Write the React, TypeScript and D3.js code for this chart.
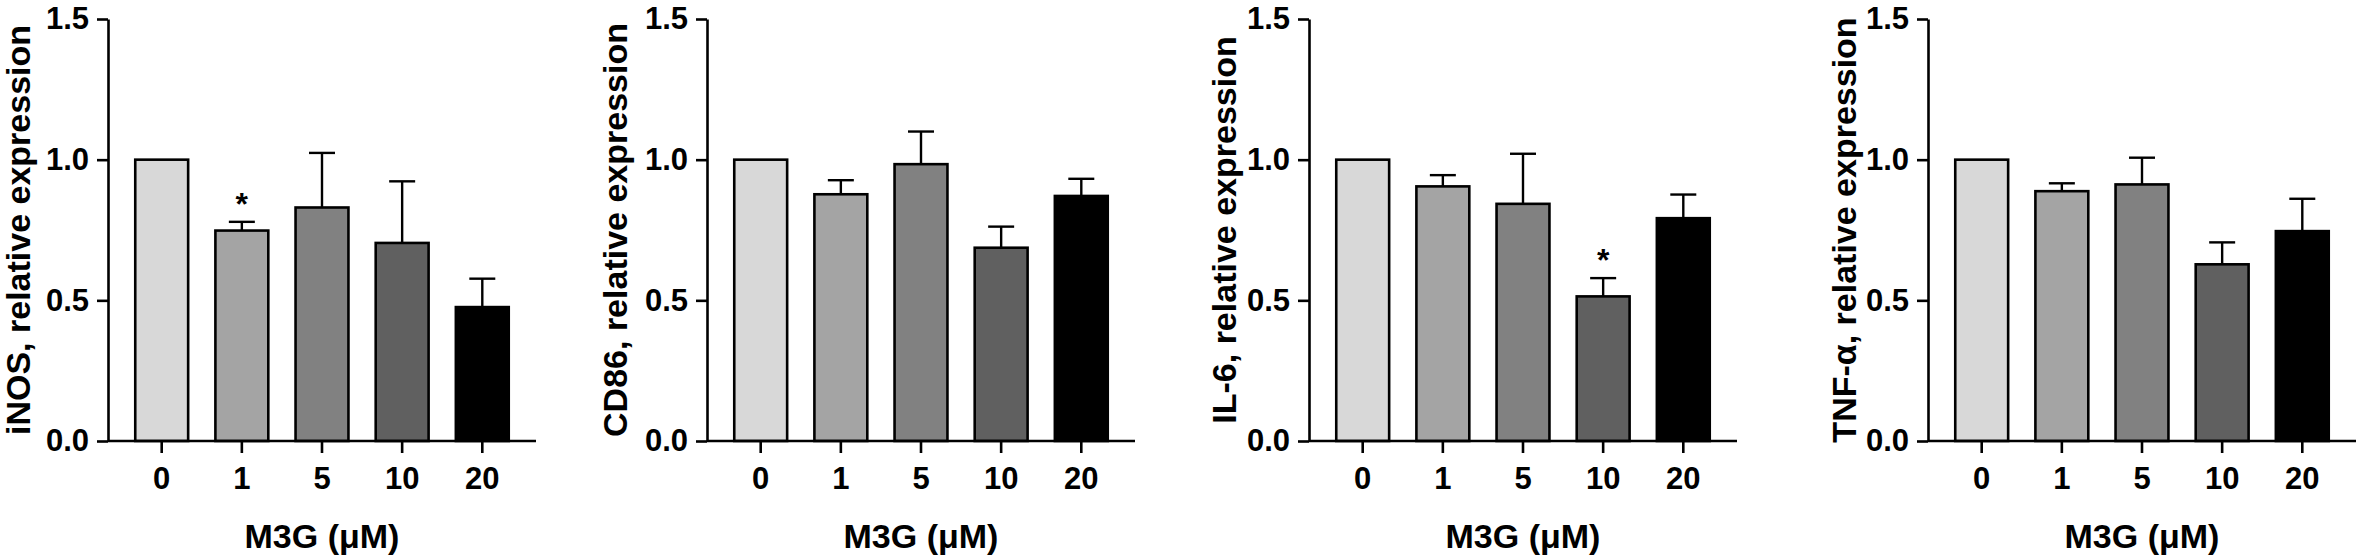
import { useEffect, useRef } from "react";
import * as d3 from "d3";

const doses = ["0", "1", "5", "10", "20"];
const barColors = ["#d8d8d8", "#a4a4a4", "#818181", "#606060", "#000000"];
const yTicks = [0, 0.5, 1.0, 1.5];

const geneLabels = ["iNOS", "CD86", "IL-6", "TNF-α"];

const inosMean = [1.0, 0.748, 0.83, 0.704, 0.476];
const inosSem = [0, 0.031, 0.194, 0.219, 0.101];
const cd86Mean = [1.0, 0.877, 0.984, 0.687, 0.871];
const cd86Sem = [0, 0.05, 0.116, 0.075, 0.061];
const il6Mean = [1.0, 0.905, 0.843, 0.514, 0.792];
const il6Sem = [0, 0.04, 0.178, 0.065, 0.084];
const tnfMean = [1.0, 0.888, 0.912, 0.628, 0.746];
const tnfSem = [0, 0.028, 0.095, 0.078, 0.115];

// index of the dose marked with * in each panel (-1 = none)
const starIndex = [1, -1, 3, -1];

const means = [inosMean, cd86Mean, il6Mean, tnfMean];
const sems = [inosSem, cd86Sem, il6Sem, tnfSem];

const W = 2362;
const H = 560;
const axisLeftX = [108, 707, 1309, 1928];
const titleOffset = [78, 80, 73, 72];
const axisLen = 428;
const top = 19;
const bottom = 441;
const font = "'Liberation Sans', Arial, Helvetica, sans-serif";

export default function App() {
  const ref = useRef<SVGSVGElement>(null);

  useEffect(() => {
    const svg = d3.select(ref.current);
    svg.selectAll("*").remove();

    const y = d3.scaleLinear().domain([0, 1.5]).range([bottom, top]);

    geneLabels.forEach((gene, p) => {
      const x0 = axisLeftX[p];
      const x = d3
        .scaleBand()
        .domain(doses)
        .range([x0, x0 + axisLen])
        .padding(0.34);

      const rows = doses.map((d, i) => ({ dose: d, mean: means[p][i], sem: sems[p][i], color: barColors[i] }));
      const g = svg.append("g");

      // bars
      g.selectAll("rect")
        .data(rows)
        .join("rect")
        .attr("x", (d) => x(d.dose)!)
        .attr("y", (d) => y(d.mean))
        .attr("width", x.bandwidth())
        .attr("height", (d) => y(0) - y(d.mean))
        .attr("fill", (d) => d.color)
        .attr("stroke", "#000")
        .attr("stroke-width", 2.6);

      // error bars (upper only)
      const err = g.append("g").attr("stroke", "#000").attr("stroke-width", 2.4);
      rows
        .filter((d) => d.sem > 0)
        .forEach((d) => {
          const cx = x(d.dose)! + x.bandwidth() / 2;
          err.append("line").attr("x1", cx).attr("x2", cx).attr("y1", y(d.mean)).attr("y2", y(d.mean + d.sem));
          err
            .append("line")
            .attr("x1", cx - 13)
            .attr("x2", cx + 13)
            .attr("y1", y(d.mean + d.sem))
            .attr("y2", y(d.mean + d.sem));
        });

      // significance star
      if (starIndex[p] >= 0) {
        const d = rows[starIndex[p]];
        const cx = x(d.dose)! + x.bandwidth() / 2;
        g.append("text")
          .attr("x", cx)
          .attr("y", y(d.mean + d.sem) - 24 + 17)
          .attr("text-anchor", "middle")
          .attr("font-family", font)
          .attr("font-weight", "bold")
          .attr("font-size", 32)
          .text("*");
      }

      // y axis
      const ya = g
        .append("g")
        .attr("transform", `translate(${x0},0)`)
        .call(
          d3
            .axisLeft(y)
            .tickValues(yTicks)
            .tickFormat(d3.format(".1f"))
            .tickSize(11)
            .tickSizeOuter(0)
            .tickPadding(8)
        );
      ya.selectAll("path, line").attr("stroke", "#000").attr("stroke-width", 2.6);
      ya.selectAll("text")
        .attr("font-family", font)
        .attr("font-weight", "bold")
        .attr("font-size", 31)
        .attr("fill", "#000");

      // x axis
      const xa = g
        .append("g")
        .attr("transform", `translate(0,${bottom})`)
        .call(d3.axisBottom(x).tickSize(12).tickSizeOuter(0).tickPadding(14));
      xa.select("path").attr("d", `M${x0},0H${x0 + axisLen}`);
      xa.selectAll("path, line").attr("stroke", "#000").attr("stroke-width", 2.6);
      xa.selectAll("text")
        .attr("font-family", font)
        .attr("font-weight", "bold")
        .attr("font-size", 31)
        .attr("fill", "#000");

      // axis titles
      g.append("text")
        .attr("transform", `translate(${x0 - titleOffset[p]},${(top + bottom) / 2}) rotate(-90)`)
        .attr("text-anchor", "middle")
        .attr("font-family", font)
        .attr("font-weight", "bold")
        .attr("font-size", 34)
        .text(`${gene}, relative expression`);

      g.append("text")
        .attr("x", x0 + axisLen / 2)
        .attr("y", 548)
        .attr("text-anchor", "middle")
        .attr("font-family", font)
        .attr("font-weight", "bold")
        .attr("font-size", 34)
        .text("M3G (μM)");
    });
  }, []);

  return (
    <svg
      ref={ref}
      width={W}
      height={H}
      viewBox={`0 0 ${W} ${H}`}
      style={{ position: "absolute", left: 0, top: 0, background: "#fff" }}
    />
  );
}
